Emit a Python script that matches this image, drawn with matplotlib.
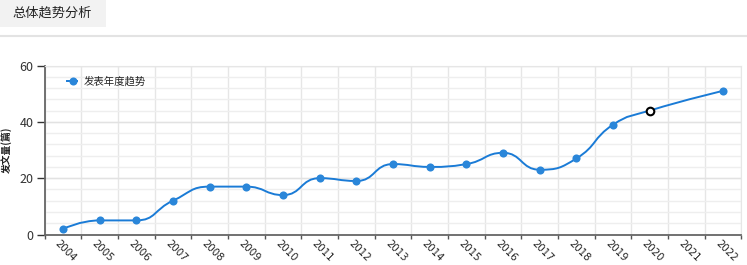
import numpy as np
import matplotlib
matplotlib.use("Agg")
import matplotlib.pyplot as plt
from matplotlib.path import Path
from matplotlib.patches import PathPatch, Rectangle
from matplotlib.lines import Line2D
from matplotlib.transforms import offset_copy

plt.rcParams['font.family'] = ['Noto Sans CJK SC', 'DejaVu Sans']

years = ['2004', '2005', '2006', '2007', '2008', '2009', '2010', '2011', '2012', '2013',
         '2014', '2015', '2016', '2017', '2018', '2019', '2020', '2021', '2022']
counts = [2, 5, 5, 12, 17, 17, 14, 20, 19, 25, 24, 25, 29, 23, 27, 39, 44, None, 51]
series_name = '发表年度趋势'
title = '总体趋势分析'
ylabel = '发文量(篇)'
highlight_year = '2020'

W, H = 747, 265
fig = plt.figure(figsize=(W / 100, H / 100), dpi=100)

def fx(px):
    return px / W

def fy(py):
    return 1 - py / H

# header
fig.patches.append(Rectangle((0, fy(27)), fx(106), 27 / H, transform=fig.transFigure,
                             facecolor='#f2f2f2', edgecolor='none'))
fig.text(fx(12), fy(13.5), title, fontsize=9.5, va='center', ha='left', color='#222222')
fig.add_artist(Line2D([0, 1], [fy(35.5)] * 2, transform=fig.transFigure, color='#e3e3e3', lw=1.5))

ax_l, ax_r, ax_t, ax_b = 44.5, 741.5, 65.5, 234.5
ax = fig.add_axes([fx(ax_l), fy(ax_b), fx(ax_r - ax_l), (ax_b - ax_t) / H])
n = len(years)
ax.set_xlim(-0.5, n - 0.5)
ax.set_ylim(0, 60)

# grid
for b in np.arange(-0.5, n, 1.0):
    ax.axvline(b, color='#e6e6e6', lw=1, zorder=0)
for v in np.arange(0, 61, 4):
    ax.axhline(v, color='#eeeeee', lw=1, zorder=0)
for v in (20, 40, 60):
    ax.axhline(v, color='#e2e2e2', lw=1, zorder=0)

# smooth line (ECharts-like, clamped control points)
pts = [(i, c) for i, c in enumerate(counts) if c is not None]
sx = (ax_r - ax_l) / n
sy = (ax_b - ax_t) / 60.0
P = np.array([(x * sx, y * sy) for x, y in pts], dtype=float)
smooth = 0.5
m = len(P)
verts = [P[0].copy()]
codes = [Path.MOVETO]
cp0 = P[0].copy()
for i in range(1, m):
    x, y = P[i]
    if i == m - 1:
        verts += [cp0, P[i].copy(), P[i].copy()]
        codes += [Path.CURVE4] * 3
        break
    px_, py_ = P[i - 1]
    nx_, ny_ = P[i + 1]
    vx, vy = nx_ - px_, ny_ - py_
    lp = np.hypot(x - px_, y - py_)
    ln = np.hypot(nx_ - x, ny_ - y)
    r = ln / (ln + lp)
    ncx = x + vx * smooth * r
    ncy = y + vy * smooth * r
    ncx = min(ncx, max(nx_, x)); ncy = min(ncy, max(ny_, y))
    ncx = max(ncx, min(nx_, x)); ncy = max(ncy, min(ny_, y))
    vx, vy = ncx - x, ncy - y
    c1x = x - vx * lp / ln
    c1y = y - vy * lp / ln
    c1x = min(c1x, max(px_, x)); c1y = min(c1y, max(py_, y))
    c1x = max(c1x, min(px_, x)); c1y = max(c1y, min(py_, y))
    vx, vy = x - c1x, y - c1y
    ncx = x + vx * ln / lp
    ncy = y + vy * ln / lp
    verts += [cp0, np.array([c1x, c1y]), P[i].copy()]
    codes += [Path.CURVE4] * 3
    cp0 = np.array([ncx, ncy])
verts = np.array(verts)
verts[:, 0] /= sx
verts[:, 1] /= sy
ax.add_patch(PathPatch(Path(verts, codes), facecolor='none', edgecolor='#1a7bd6', lw=1.4, zorder=3))

xs = [i for i, c in enumerate(counts) if c is not None and years[i] != highlight_year]
ys = [c for i, c in enumerate(counts) if c is not None and years[i] != highlight_year]
ax.scatter(xs, ys, s=34, color='#2a86d9', zorder=4, linewidths=0)
hi = years.index(highlight_year)
ax.scatter([hi], [counts[hi]], s=30, facecolor='white', edgecolor='black', linewidths=1.5, zorder=5)

# axes styling
for s in ('top', 'right'):
    ax.spines[s].set_color('#e6e6e6')
for s in ('left', 'bottom'):
    ax.spines[s].set_color('#666666')
    ax.spines[s].set_linewidth(1.3)
ax.set_yticks([0, 20, 40, 60])
ax.tick_params(axis='y', labelsize=9, colors='#333333', length=6, width=1, pad=2)
ax.set_xticks(np.arange(-0.5, n, 1.0))
ax.set_xticklabels([])
ax.tick_params(axis='x', length=3, width=1, colors='#555555')
lab_tr = offset_copy(ax.transData, fig=fig, x=-6, y=0, units='dots')
for i, y in enumerate(years):
    ax.text(i, -2.6, y, rotation=-45, rotation_mode='anchor', ha='left', va='center',
            fontsize=7.3, color='#222222', transform=lab_tr, clip_on=False,
            family=['DejaVu Sans'])
ax.set_ylabel(ylabel, fontsize=7, fontweight='bold', color='#222222')
ax.yaxis.set_label_coords(-(ax_l - 12) / (ax_r - ax_l), 0.5)

# legend (manual)
fig.add_artist(Line2D([fx(66.5), fx(77)], [fy(81)] * 2, transform=fig.transFigure,
                      color='#1a7bd6', lw=1.4))
fig.add_artist(Line2D([fx(72.5)], [fy(81)], transform=fig.transFigure, marker='o',
                      markersize=5.8, markerfacecolor='#2a86d9', markeredgewidth=0, lw=0))
fig.text(fx(84), fy(81), series_name, fontsize=7.5, va='center', ha='left', color='#222222')

fig.savefig('out.png', dpi=100)
